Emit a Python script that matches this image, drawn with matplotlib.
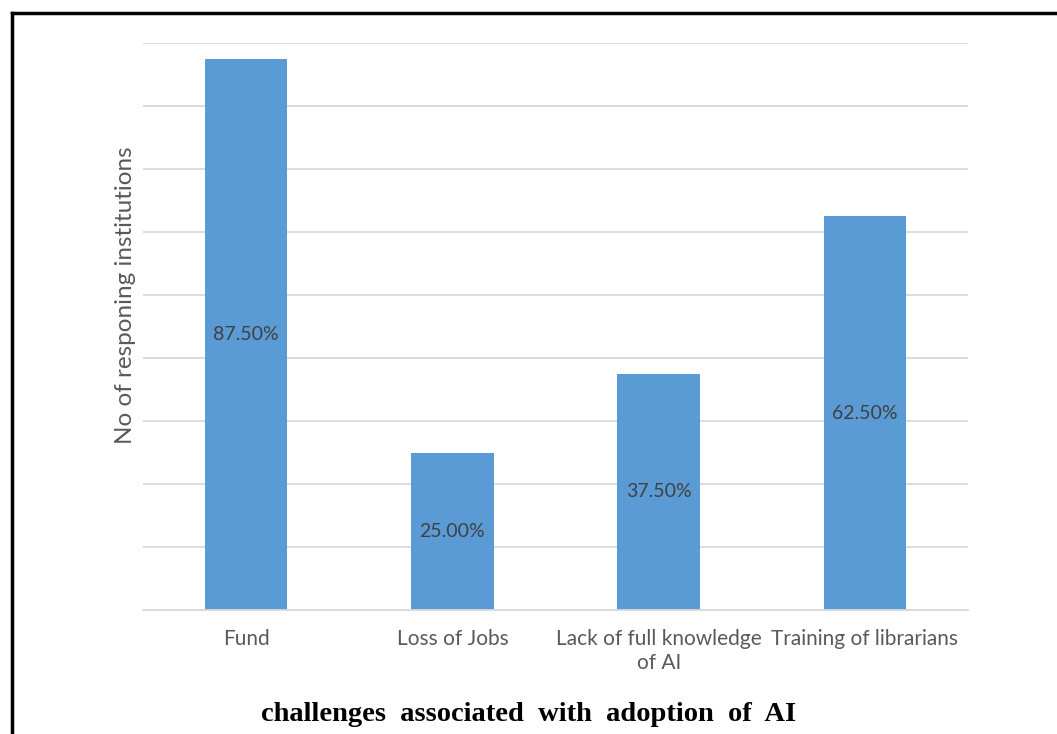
import matplotlib.pyplot as plt
from matplotlib.lines import Line2D

# survey results (share of responding institutions)
challenges = ["Fund", "Loss of Jobs", "Lack of full knowledge\nof AI", "Training of librarians"]
percent = [87.5, 25.0, 37.5, 62.5]
grid_ticks = [0, 10, 20, 30, 40, 50, 60, 70, 80, 90]

fig = plt.figure(figsize=(10.57, 7.34), dpi=100)
ax = fig.add_axes([0.1353, 0.1689, 0.7805, 0.7725])

x = range(len(challenges))
ax.bar(x, percent, width=0.4, color="#5b9bd5", zorder=2)

for i, v in enumerate(percent):
    ax.text(i, v / 2, f"{v:.2f}%", ha="center", va="center",
            fontsize=14, color="#404040", family="Lato", zorder=3)

ax.set_xlim(-0.5, len(challenges) - 0.5)
ax.set_ylim(0, 90)
ax.set_yticks(grid_ticks)
ax.set_yticklabels([])
ax.yaxis.grid(True, color="#d9d9d9", linewidth=1.3, zorder=0)
ax.tick_params(axis="both", length=0)
ax.set_xticks(list(x))
ax.set_xticklabels(challenges, fontsize=15, color="#595959", family="Lato",
                   linespacing=1.2)
ax.tick_params(axis="x", pad=14)
for s in ["top", "right", "left"]:
    ax.spines[s].set_visible(False)
ax.spines["bottom"].set_color("#d9d9d9")
ax.spines["bottom"].set_linewidth(1.3)

ax.set_ylabel("No of responing institutions", fontsize=17.5, color="#595959",
              family="Lato")
ax.yaxis.set_label_coords(-0.008, 0.556)

fig.text(0.5005, 0.027, "challenges  associated  with  adoption  of  AI",
         ha="center", va="center", fontsize=20.5, fontweight="bold",
         family="Liberation Serif")

# frame lines along the top and left edge
fig.add_artist(Line2D([0.0114, 1.0], [0.9823, 0.9823], color="black", linewidth=2.5,
                      transform=fig.transFigure))
fig.add_artist(Line2D([0.0114, 0.0114], [0.0, 0.9823], color="black", linewidth=2.5,
                      transform=fig.transFigure))

fig.savefig("out.png", dpi=100)
